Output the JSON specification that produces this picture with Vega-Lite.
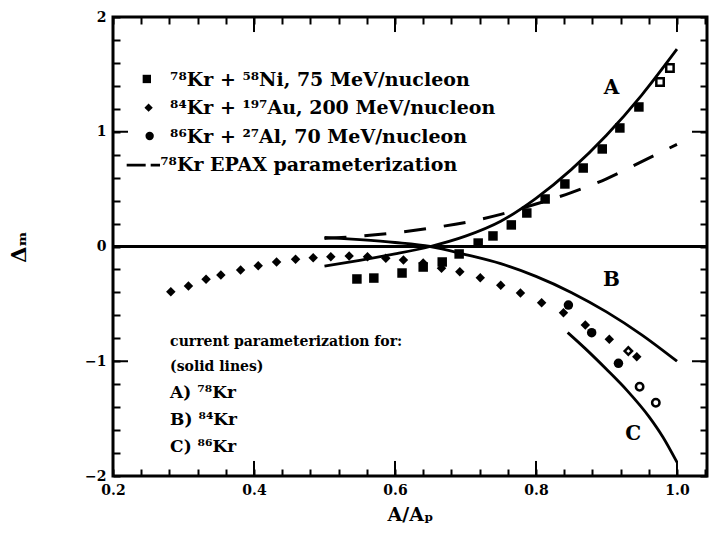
{
  "$schema": "https://vega.github.io/schema/vega-lite/v6.json",
  "width": 594,
  "height": 459,
  "autosize": "none",
  "padding": {"left": 113, "top": 17, "right": 2, "bottom": 62},
  "background": "white",
  "config": {
    "view": {"stroke": "black", "strokeWidth": 3},
    "axis": {
      "domain": false, "tickColor": "black", "tickWidth": 2, "grid": false,
      "labelFont": "DejaVu Serif", "labelFontWeight": "bold", "labelFontSize": 14, "labelColor": "black",
      "titleFont": "DejaVu Serif", "titleFontWeight": "bold", "titleFontSize": 19, "titleColor": "black"
    }
  },
  "datasets": {
    "curves": [
      {"c": "A", "x": 0.50, "y": -0.17}, {"c": "A", "x": 0.55, "y": -0.12}, {"c": "A", "x": 0.60, "y": -0.065}, {"c": "A", "x": 0.65, "y": 0.0}, {"c": "A", "x": 0.70, "y": 0.09}, {"c": "A", "x": 0.75, "y": 0.22}, {"c": "A", "x": 0.80, "y": 0.42}, {"c": "A", "x": 0.85, "y": 0.67}, {"c": "A", "x": 0.90, "y": 0.97}, {"c": "A", "x": 0.95, "y": 1.32}, {"c": "A", "x": 1.00, "y": 1.72},
      {"c": "B", "x": 0.50, "y": 0.08}, {"c": "B", "x": 0.55, "y": 0.06}, {"c": "B", "x": 0.60, "y": 0.035}, {"c": "B", "x": 0.65, "y": 0.0}, {"c": "B", "x": 0.70, "y": -0.07}, {"c": "B", "x": 0.75, "y": -0.15}, {"c": "B", "x": 0.80, "y": -0.26}, {"c": "B", "x": 0.85, "y": -0.40}, {"c": "B", "x": 0.90, "y": -0.57}, {"c": "B", "x": 0.95, "y": -0.77}, {"c": "B", "x": 1.00, "y": -1.00},
      {"c": "C", "x": 0.845, "y": -0.75}, {"c": "C", "x": 0.87, "y": -0.89}, {"c": "C", "x": 0.90, "y": -1.07}, {"c": "C", "x": 0.93, "y": -1.26}, {"c": "C", "x": 0.96, "y": -1.48}, {"c": "C", "x": 0.98, "y": -1.66}, {"c": "C", "x": 1.00, "y": -1.88},
      {"c": "EPAX", "x": 0.50, "y": 0.07}, {"c": "EPAX", "x": 0.55, "y": 0.09}, {"c": "EPAX", "x": 0.60, "y": 0.12}, {"c": "EPAX", "x": 0.65, "y": 0.16}, {"c": "EPAX", "x": 0.70, "y": 0.21}, {"c": "EPAX", "x": 0.75, "y": 0.28}, {"c": "EPAX", "x": 0.80, "y": 0.37}, {"c": "EPAX", "x": 0.85, "y": 0.47}, {"c": "EPAX", "x": 0.90, "y": 0.59}, {"c": "EPAX", "x": 0.95, "y": 0.74}, {"c": "EPAX", "x": 1.00, "y": 0.89}
    ],
    "points": [
      {"s": "Ni", "filled": true, "x": 0.546, "y": -0.283}, {"s": "Ni", "filled": true, "x": 0.570, "y": -0.275}, {"s": "Ni", "filled": true, "x": 0.610, "y": -0.231}, {"s": "Ni", "filled": true, "x": 0.640, "y": -0.179}, {"s": "Ni", "filled": true, "x": 0.667, "y": -0.135}, {"s": "Ni", "filled": true, "x": 0.691, "y": -0.065}, {"s": "Ni", "filled": true, "x": 0.718, "y": 0.030}, {"s": "Ni", "filled": true, "x": 0.739, "y": 0.092}, {"s": "Ni", "filled": true, "x": 0.765, "y": 0.188}, {"s": "Ni", "filled": true, "x": 0.787, "y": 0.292}, {"s": "Ni", "filled": true, "x": 0.813, "y": 0.414}, {"s": "Ni", "filled": true, "x": 0.841, "y": 0.545}, {"s": "Ni", "filled": true, "x": 0.867, "y": 0.684}, {"s": "Ni", "filled": true, "x": 0.894, "y": 0.850}, {"s": "Ni", "filled": true, "x": 0.919, "y": 1.033}, {"s": "Ni", "filled": true, "x": 0.946, "y": 1.216},
      {"s": "Ni", "filled": false, "x": 0.976, "y": 1.434}, {"s": "Ni", "filled": false, "x": 0.990, "y": 1.556},
      {"s": "Au", "filled": true, "x": 0.282, "y": -0.394}, {"s": "Au", "filled": true, "x": 0.307, "y": -0.344}, {"s": "Au", "filled": true, "x": 0.332, "y": -0.286}, {"s": "Au", "filled": true, "x": 0.353, "y": -0.249}, {"s": "Au", "filled": true, "x": 0.381, "y": -0.205}, {"s": "Au", "filled": true, "x": 0.406, "y": -0.167}, {"s": "Au", "filled": true, "x": 0.432, "y": -0.135}, {"s": "Au", "filled": true, "x": 0.459, "y": -0.112}, {"s": "Au", "filled": true, "x": 0.484, "y": -0.098}, {"s": "Au", "filled": true, "x": 0.509, "y": -0.089}, {"s": "Au", "filled": true, "x": 0.535, "y": -0.083}, {"s": "Au", "filled": true, "x": 0.561, "y": -0.089}, {"s": "Au", "filled": true, "x": 0.587, "y": -0.103}, {"s": "Au", "filled": true, "x": 0.612, "y": -0.118}, {"s": "Au", "filled": true, "x": 0.640, "y": -0.144}, {"s": "Au", "filled": true, "x": 0.666, "y": -0.190}, {"s": "Au", "filled": true, "x": 0.692, "y": -0.220}, {"s": "Au", "filled": true, "x": 0.721, "y": -0.272}, {"s": "Au", "filled": true, "x": 0.750, "y": -0.338}, {"s": "Au", "filled": true, "x": 0.778, "y": -0.405}, {"s": "Au", "filled": true, "x": 0.808, "y": -0.490}, {"s": "Au", "filled": true, "x": 0.839, "y": -0.577}, {"s": "Au", "filled": true, "x": 0.870, "y": -0.684}, {"s": "Au", "filled": true, "x": 0.904, "y": -0.809}, {"s": "Au", "filled": true, "x": 0.943, "y": -0.960},
      {"s": "Au", "filled": false, "x": 0.931, "y": -0.911},
      {"s": "Al", "filled": true, "x": 0.846, "y": -0.510}, {"s": "Al", "filled": true, "x": 0.879, "y": -0.751}, {"s": "Al", "filled": true, "x": 0.917, "y": -1.018},
      {"s": "Al", "filled": false, "x": 0.947, "y": -1.222}, {"s": "Al", "filled": false, "x": 0.970, "y": -1.361}
    ],
    "legendsym": [
      {"s": "Ni", "x": 0.248, "y": 1.46}, {"s": "Au", "x": 0.2505, "y": 1.21}, {"s": "Al", "x": 0.252, "y": 0.963}
    ],
    "legendline": [
      {"x": 0.2194, "y": 0.71}, {"x": 0.2667, "y": 0.71}
    ],
    "legendtext": [
      {"x": 0.281, "y": 1.451, "label": "⁷⁸Kr + ⁵⁸Ni, 75 MeV/nucleon"},
      {"x": 0.281, "y": 1.207, "label": "⁸⁴Kr + ¹⁹⁷Au, 200 MeV/nucleon"},
      {"x": 0.281, "y": 0.954, "label": "⁸⁶Kr + ²⁷Al, 70 MeV/nucleon"},
      {"x": 0.267, "y": 0.710, "label": "⁷⁸Kr EPAX parameterization"}
    ],
    "notesmall": [
      {"x": 0.281, "y": -0.83, "label": "current parameterization for:"},
      {"x": 0.281, "y": -1.05, "label": "(solid lines)"}
    ],
    "notebig": [
      {"x": 0.281, "y": -1.28, "label": "A) ⁷⁸Kr"},
      {"x": 0.281, "y": -1.51, "label": "B) ⁸⁴Kr"},
      {"x": 0.281, "y": -1.75, "label": "C) ⁸⁶Kr"}
    ],
    "curvelabels": [
      {"x": 0.907, "y": 1.38, "label": "A"},
      {"x": 0.907, "y": -0.29, "label": "B"},
      {"x": 0.938, "y": -1.63, "label": "C"}
    ]
  },
  "layer": [
    {
      "encoding": {
        "x": {"field": "x", "type": "quantitative", "scale": {"domain": [0.2, 1.0426], "nice": false, "zero": false},
          "axis": {"orient": "bottom", "title": "A/Aₚ", "titlePadding": 8, "offset": -7, "tickSize": 7,
            "values": [0.2, 0.24, 0.28, 0.32, 0.36, 0.4, 0.44, 0.48, 0.52, 0.56, 0.6, 0.64, 0.68, 0.72, 0.76, 0.8, 0.84, 0.88, 0.92, 0.96, 1.0, 1.04],
            "labelExpr": "abs(datum.value*5 - round(datum.value*5)) < 0.001 ? format(datum.value, '.1f') : ''",
            "labelPadding": 7, "labelFlush": false, "labelOverlap": false}},
        "y": {"field": "y", "type": "quantitative", "scale": {"domain": [-2, 2], "nice": false, "zero": false},
          "axis": {"orient": "left", "title": "Δₘ", "titlePadding": 55, "titleFontSize": 21, "offset": -7, "tickSize": 7,
            "values": [-2, -1.8, -1.6, -1.4, -1.2, -1, -0.8, -0.6, -0.4, -0.2, 0, 0.2, 0.4, 0.6, 0.8, 1, 1.2, 1.4, 1.6, 1.8, 2],
            "labelExpr": "abs(datum.value - round(datum.value)) < 0.001 ? format(datum.value, 'd') : ''",
            "labelPadding": 7, "labelFlush": false, "labelOverlap": false}}
      },
      "layer": [
        {"data": {"name": "curves"}, "transform": [{"filter": "datum.c != 'EPAX'"}],
          "mark": {"type": "line", "color": "black", "strokeWidth": 2.8, "interpolate": "monotone"},
          "encoding": {"detail": {"field": "c"}}},
        {"data": {"name": "curves"}, "transform": [{"filter": "datum.c == 'EPAX'"}],
          "mark": {"type": "line", "color": "black", "strokeWidth": 3, "interpolate": "monotone", "strokeDash": [22, 18]},
          "encoding": {}},
        {"data": {"name": "points"}, "transform": [{"filter": "datum.filled"}],
          "mark": {"type": "point", "filled": true, "color": "black", "opacity": 1, "size": 90},
          "encoding": {"shape": {"field": "s", "type": "nominal", "scale": {"domain": ["Ni", "Au", "Al"], "range": ["square", "diamond", "circle"]}, "legend": null}}},
        {"data": {"name": "points"}, "transform": [{"filter": "!datum.filled"}],
          "mark": {"type": "point", "filled": false, "color": "black", "opacity": 1, "size": 55, "strokeWidth": 2.5},
          "encoding": {"shape": {"field": "s", "type": "nominal", "legend": null}}},
        {"data": {"name": "legendsym"},
          "mark": {"type": "point", "filled": true, "color": "black", "opacity": 1, "size": 70},
          "encoding": {"shape": {"field": "s", "type": "nominal", "legend": null}}},
        {"data": {"name": "legendline"},
          "mark": {"type": "line", "color": "black", "strokeWidth": 2.8, "strokeDash": [19, 5, 10, 100]},
          "encoding": {}},
        {"data": {"name": "legendtext"},
          "mark": {"type": "text", "align": "left", "baseline": "middle", "font": "DejaVu Serif", "fontWeight": "bold", "fontSize": 19, "color": "black"},
          "encoding": {"text": {"field": "label"}}},
        {"data": {"name": "notesmall"},
          "mark": {"type": "text", "align": "left", "baseline": "middle", "font": "DejaVu Serif", "fontWeight": "bold", "fontSize": 14, "color": "black"},
          "encoding": {"text": {"field": "label"}}},
        {"data": {"name": "notebig"},
          "mark": {"type": "text", "align": "left", "baseline": "middle", "font": "DejaVu Serif", "fontWeight": "bold", "fontSize": 17, "color": "black"},
          "encoding": {"text": {"field": "label"}}},
        {"data": {"name": "curvelabels"},
          "mark": {"type": "text", "align": "center", "baseline": "middle", "font": "DejaVu Serif", "fontWeight": "bold", "fontSize": 20, "color": "black"},
          "encoding": {"text": {"field": "label"}}}
      ]
    },
    {
      "data": {"values": [{"y": 0}]},
      "mark": {"type": "rule", "color": "black", "strokeWidth": 3},
      "encoding": {"y": {"field": "y", "type": "quantitative", "axis": null}}
    },
    {
      "data": {"values": [{"pos": 0.4}, {"pos": 0.6}, {"pos": 0.8}, {"pos": 1.0}]},
      "mark": {"type": "rule", "color": "black", "strokeWidth": 2},
      "encoding": {
        "x": {"field": "pos", "type": "quantitative", "axis": null},
        "y": {"datum": -2, "type": "quantitative", "axis": null},
        "y2": {"datum": -1.869}
      }
    },
    {
      "data": {"values": [{"pos": 0.4}, {"pos": 0.6}, {"pos": 0.8}, {"pos": 1.0}]},
      "mark": {"type": "rule", "color": "black", "strokeWidth": 2},
      "encoding": {
        "x": {"field": "pos", "type": "quantitative", "axis": null},
        "y": {"datum": 2, "type": "quantitative", "axis": null},
        "y2": {"datum": 1.869}
      }
    },
    {
      "data": {"values": [{"pos": -1}, {"pos": 0}, {"pos": 1}]},
      "mark": {"type": "rule", "color": "black", "strokeWidth": 2},
      "encoding": {
        "y": {"field": "pos", "type": "quantitative", "axis": null},
        "x": {"datum": 0.2, "type": "quantitative", "axis": null},
        "x2": {"datum": 0.2213}
      }
    },
    {
      "data": {"values": [{"pos": -1}, {"pos": 0}, {"pos": 1}]},
      "mark": {"type": "rule", "color": "black", "strokeWidth": 2},
      "encoding": {
        "y": {"field": "pos", "type": "quantitative", "axis": null},
        "x": {"datum": 1.0426, "type": "quantitative", "axis": null},
        "x2": {"datum": 1.0213}
      }
    },
    {
      "data": {"name": "curves"},
      "mark": {"type": "point", "opacity": 0},
      "encoding": {
        "x": {"field": "x", "type": "quantitative",
          "axis": {"orient": "top", "title": null, "labels": false, "offset": -7, "tickSize": 7,
            "values": [0.2, 0.24, 0.28, 0.32, 0.36, 0.4, 0.44, 0.48, 0.52, 0.56, 0.6, 0.64, 0.68, 0.72, 0.76, 0.8, 0.84, 0.88, 0.92, 0.96, 1.0, 1.04]}},
        "y": {"field": "y", "type": "quantitative",
          "axis": {"orient": "right", "title": null, "labels": false, "offset": -7, "tickSize": 7,
            "values": [-2, -1.8, -1.6, -1.4, -1.2, -1, -0.8, -0.6, -0.4, -0.2, 0, 0.2, 0.4, 0.6, 0.8, 1, 1.2, 1.4, 1.6, 1.8, 2]}}
      }
    }
  ],
  "resolve": {"axis": {"x": "independent", "y": "independent"}}
}
